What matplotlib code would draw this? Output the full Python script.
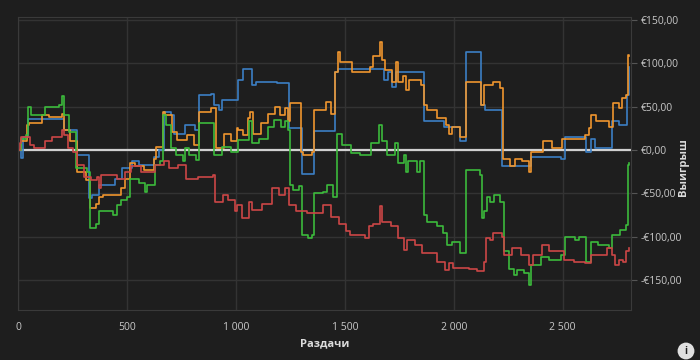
import matplotlib.pyplot as plt
from matplotlib.ticker import FuncFormatter

# hands (x) and winnings in euro (y)
blue_x = [0, 11, 21, 46, 209, 271, 327, 341, 370, 446, 477, 523, 553, 622, 645, 668, 703, 713, 764,
          812, 828, 886, 901, 924, 937, 1010, 1034, 1075, 1090, 1187, 1245, 1301, 1359, 1454, 1466,
          1679, 1700, 1715, 1735, 1861, 1955, 2027, 2058, 2125, 2145, 2221, 2354, 2490, 2512, 2607,
          2632, 2650, 2726, 2757, 2795, 2803]
blue_y = [0, -9, 15, 36, 23, -6, -55, -52, -40, -33, -21, -13, -17, -8, 0, 44, 40, 19, 29,
          23, 63, 65, 52, 46, 58, 81, 94, 75, 79, 77, 25, -28, 22, 90, 94,
          81, 90, 73, 90, 33, 27, 10, 113, 52, 46, -19, -8, -10, 15, -2,
          13, 2, 33, 29, 63, 96]

orange_x = [0, 11, 41, 49, 107, 141, 202, 209, 240, 271, 312, 329, 355, 370, 388, 446, 474, 492,
            515, 538, 576, 622, 633, 663, 675, 706, 729, 774, 809, 828, 886, 907, 947, 977, 1003,
            1011, 1034, 1054, 1064, 1080, 1115, 1148, 1179, 1202, 1225, 1240, 1248, 1298, 1309,
            1350, 1359, 1411, 1436, 1454, 1466, 1477, 1533, 1614, 1629, 1659, 1670, 1685, 1715,
            1733, 1745, 1765, 1780, 1795, 1848, 1864, 1879, 1921, 1962, 1977, 1992, 2027, 2058,
            2125, 2140, 2180, 2210, 2226, 2259, 2282, 2312, 2344, 2355, 2408, 2450, 2495, 2512,
            2592, 2604, 2619, 2632, 2653, 2714, 2729, 2760, 2772, 2792, 2800, 2803]
orange_y = [0, 10, 29, 31, 40, 38, 42, 23, 10, -25, -35, -67, -62, -54, -52, -52, -44, -33,
            -15, -19, -23, -10, 4, 44, 40, 21, 12, 17, 6, 44, 48, 2, 19, 10, 25,
            23, 17, 37, 44, 19, 31, 42, 50, 40, 48, 33, 54, -2, -6,
            -2, 46, 55, 42, 90, 113, 102, 90, 96, 108, 125, 104, 92, 79,
            102, 79, 85, 69, 81, 75, 52, 46, 37, 29, 19, 27, 15, 79,
            52, 75, 79, 71, -10, -19, -10, -13, -25, -2, 10, 2, 13, 13,
            13, 17, 25, 40, 33, 27, 54, 48, 60, 63, 110, 108]

green_x = [0, 11, 34, 46, 57, 122, 187, 199, 209, 232, 266, 317, 330, 355, 373, 434, 454, 474, 500,
           511, 553, 581, 591, 626, 652, 663, 678, 703, 724, 755, 767, 782, 815, 828, 901, 934,
           977, 1007, 1011, 1060, 1075, 1105, 1145, 1176, 1206, 1225, 1237, 1248, 1263, 1289,
           1301, 1329, 1350, 1359, 1401, 1416, 1446, 1462, 1488, 1527, 1568, 1618, 1658, 1670,
           1694, 1730, 1745, 1770, 1779, 1791, 1830, 1845, 1861, 1879, 1921, 1951, 1967, 1992,
           2027, 2058, 2122, 2130, 2140, 2152, 2168, 2183, 2213, 2229, 2251, 2274, 2290, 2320,
           2344, 2355, 2399, 2439, 2491, 2509, 2555, 2573, 2607, 2632, 2662, 2714, 2726, 2765,
           2790, 2800, 2803]
green_y = [0, 13, 17, 50, 40, 50, 52, 62, 40, 21, -21, -25, -90, -85, -71, -75, -63, -58, -54,
           -33, -38, -48, -40, -17, -13, 40, 29, 2, -6, -13, 2, -6, -12, 31, -6, 4,
           -2, 10, 12, 33, 8, 13, 27, 35, 27, 33, 23, -40, -46, -42,
           -98, -102, -98, -50, -48, -40, -54, 19, 6, -4, -6, 8, 29, 10,
           -6, 8, -15, -6, -25, -13, -25, -13, -75, -83, -88, -96, -110, -106,
           -119, -23, -29, -79, -71, -54, -60, -52, -60, -117, -137, -144, -138, -142,
           -156, -133, -123, -127, -121, -100, -104, -100, -129, -106, -110, -113, -98, -92,
           -87, -17, -15]

red_x = [0, 6, 15, 52, 72, 122, 153, 199, 209, 229, 251, 268, 301, 336, 362, 370, 382, 454,
         492, 520, 566, 626, 668, 694, 733, 770, 825, 896, 904, 942, 962, 995, 1003, 1029,
         1060, 1075, 1121, 1164, 1197, 1225, 1245, 1274, 1324, 1401, 1436, 1472, 1503, 1523,
         1594, 1609, 1629, 1659, 1670, 1712, 1742, 1770, 1785, 1821, 1856, 1924, 1958, 1977,
         1997, 2069, 2107, 2140, 2146, 2165, 2180, 2221, 2232, 2267, 2308, 2347, 2363, 2405,
         2439, 2505, 2550, 2604, 2632, 2703, 2726, 2742, 2760, 2775, 2792, 2803]
red_y = [0, 8, 15, 6, 2, 10, 15, 23, 17, 2, -2, -17, -31, -35, -31, -44, -29, -33,
         -25, -19, -25, -17, -13, -21, -17, -33, -31, -29, -60, -52, -58, -71, -63, -79,
         -60, -69, -62, -44, -52, -44, -63, -71, -73, -63, -77, -85, -94, -98,
         -102, -88, -85, -65, -83, -88, -102, -115, -104, -110, -119, -129, -138, -131,
         -136, -137, -140, -129, -102, -104, -96, -100, -121, -113, -121, -133, -121, -110,
         -117, -127, -129, -131, -121, -113, -121, -133, -127, -129, -117, -113]

y_ticks = [-150, -100, -50, 0, 50, 100, 150]
x_ticks = [0, 500, 1000, 1500, 2000, 2500]

bg = '#1e1e1e'
txt = '#c8c8c8'
plt.rcParams['font.family'] = ['Open Sans', 'DejaVu Sans']

fig = plt.figure(figsize=(7, 3.6), dpi=100, facecolor=bg)
ax = fig.add_axes([0.026, 0.139, 0.875, 0.814], facecolor=bg)

ax.plot(blue_x, blue_y, drawstyle='steps-post', color='#3b7fc4', lw=1.2)
ax.plot(orange_x, orange_y, drawstyle='steps-post', color='#f0962e', lw=1.2)
ax.plot(green_x, green_y, drawstyle='steps-post', color='#3cba3c', lw=1.2)
ax.plot(red_x, red_y, drawstyle='steps-post', color='#cc4646', lw=1.2)
ax.axhline(0, color='#d0d0d0', lw=1.6, zorder=1)

ax.set_xlim(0, 2812)
ax.set_ylim(-184.7, 153.6)
ax.set_xticks(x_ticks)
ax.set_yticks(y_ticks)
ax.xaxis.set_major_formatter(FuncFormatter(lambda v, p: f'{int(v):,}'.replace(',', ' ')))
ax.yaxis.set_major_formatter(FuncFormatter(
    lambda v, p: ('-' if v < 0 else '') + f'€{abs(v):.2f}'.replace('.', ',')))
ax.yaxis.tick_right()
ax.tick_params(axis='y', colors='#555555', labelcolor=txt, labelsize=7.5, length=4, pad=3)
ax.tick_params(axis='x', colors='#555555', labelcolor=txt, labelsize=7.5, length=0, pad=9)
ax.grid(True, color='#333333', lw=1)
ax.set_axisbelow(True)
for s in ax.spines.values():
    s.set_color('#3a3a3a')

fig.text(0.464, 0.045, 'Раздачи', color='#dcdcdc', fontsize=8, weight='bold', ha='center', va='center')
fig.text(0.976, 0.535, 'Выигрыш', color='#dcdcdc', fontsize=8, weight='bold', rotation=90,
         ha='center', va='center')
fig.text(0.98, 0.025, 'i', color=bg, fontsize=7, weight='bold', ha='center', va='center',
         bbox=dict(boxstyle='circle,pad=0.3', fc='#e0e0e0', ec='none'))

plt.savefig('out.png', facecolor=bg)
